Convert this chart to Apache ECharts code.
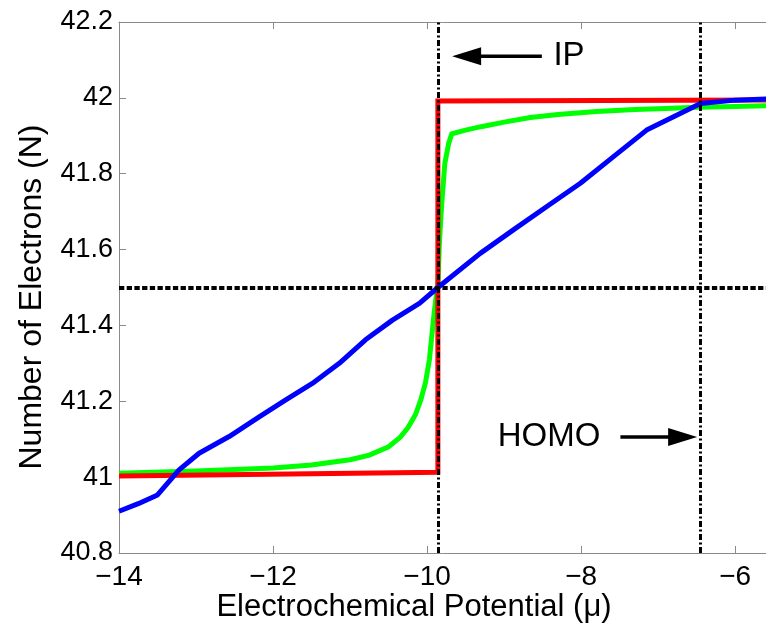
<!DOCTYPE html>
<html>
<head>
<meta charset="utf-8">
<script src="https://cdn.jsdelivr.net/npm/echarts@6/dist/echarts.min.js"></script>
<style>
  html, body { margin: 0; padding: 0; background: #fff; }
  #chart { width: 766px; height: 626px; }
</style>
</head>
<body>
<div id="chart"></div>
<script>
// Electron count N versus electrochemical potential mu
const xRange = [-14, -5.6];
const yRange = [40.8, 42.2];
const xTickStep = 2;
const yTickStep = 0.2;

// Step occupation (red)
const stepMu = [-14, -9.86, -9.86, -5];
const stepN  = [41.003, 41.013, 41.992, 41.995];

// Smoothed occupation (green)
const smoothMu = [-14, -13, -12, -11.5, -11, -10.75, -10.5, -10.35, -10.25, -10.15, -10.08, -10.02, -9.97, -9.94, -9.91, -9.88, -9.86,
                  -9.84, -9.81, -9.77, -9.72, -9.68, -9.5, -9.3, -9.0, -8.66, -8.3, -7.8, -7.3, -6.9, -6.5, -6.0, -5.0];
const smoothN  = [41.010, 41.016, 41.024, 41.032, 41.046, 41.058, 41.080, 41.105, 41.130, 41.165, 41.205, 41.250, 41.310, 41.370, 41.430, 41.480, 41.500,
                  41.620, 41.720, 41.827, 41.880, 41.905, 41.915, 41.924, 41.936, 41.948, 41.956, 41.964, 41.969, 41.972, 41.975, 41.977, 41.982];

// Broad occupation (blue)
const broadMu = [-14, -13.75, -13.5, -13.22, -12.96, -12.57, -12.18, -11.84, -11.49, -11.14, -10.80, -10.45, -10.10, -9.86,
                 -9.31, -8.88, -8.45, -8.01, -7.58, -7.15, -6.80, -6.45, -6.0, -5.0];
const broadN  = [40.910, 40.930, 40.953, 41.019, 41.063, 41.107, 41.159, 41.203, 41.247, 41.300, 41.362, 41.414, 41.458, 41.500,
                 41.590, 41.652, 41.713, 41.775, 41.845, 41.915, 41.950, 41.985, 41.994, 42.002];

// Reference levels
const ipMu = -9.86;
const homoMu = -6.45;
const halfN = 41.5;

// Annotation arrows: [tailMu, tailN, tipMu, tipN]
const arrowIP   = [-8.51, 42.110, -9.675, 42.110];
const arrowHOMO = [-7.49, 41.106, -6.494, 41.106];

// Annotation labels: [text, mu, N, align]
const labelIP   = ['IP', -8.36, 42.110, 'left'];
const labelHOMO = ['HOMO', -7.75, 41.106, 'right'];

const FONT = '"Liberation Sans", Arial, Helvetica, sans-serif';
const AXIS_GRAY = '#8a8a8a';

const zip = (a, b) => a.map((v, i) => [v, b[i]]);

function fmtX(v) {
  return (v < 0 ? '\u2212' : '') + Math.abs(v);
}
function fmtY(v) {
  return String(Number(v.toFixed(1)));
}

const chart = echarts.init(document.getElementById('chart'), null, { renderer: 'canvas' });

const lineBase = {
  type: 'line',
  showSymbol: false,
  symbol: 'none',
  silent: true,
  animation: false,
  clip: true
};

const dashDot = { color: '#000', width: 3, type: [6, 2.5, 2, 2.5], cap: 'butt' };

chart.setOption({
  animation: false,
  backgroundColor: '#ffffff',
  grid: { left: 119, top: 22, bottom: 73, right: 0, containLabel: false },
  xAxis: [
    {
      type: 'value', min: xRange[0], max: xRange[1], interval: xTickStep,
      position: 'bottom',
      axisLine: { show: true, onZero: false, lineStyle: { color: AXIS_GRAY, width: 1 } },
      axisTick: { show: true, inside: true, length: 7, lineStyle: { color: AXIS_GRAY } },
      axisLabel: { show: true, margin: 10, color: '#000', fontFamily: FONT, fontSize: 28, formatter: fmtX, showMaxLabel: false },
      splitLine: { show: false }
    },
    {
      type: 'value', min: xRange[0], max: xRange[1], interval: xTickStep,
      position: 'top',
      axisLine: { show: true, onZero: false, lineStyle: { color: AXIS_GRAY, width: 1 } },
      axisTick: { show: true, inside: true, length: 7, lineStyle: { color: AXIS_GRAY } },
      axisLabel: { show: false },
      splitLine: { show: false }
    }
  ],
  yAxis: [
    {
      type: 'value', min: yRange[0], max: yRange[1], interval: yTickStep,
      position: 'left',
      axisLine: { show: true, onZero: false, lineStyle: { color: AXIS_GRAY, width: 1 } },
      axisTick: { show: true, inside: true, length: 7, lineStyle: { color: AXIS_GRAY } },
      axisLabel: { show: true, margin: 6, color: '#000', fontFamily: FONT, fontSize: 27, formatter: fmtY },
      splitLine: { show: false }
    }
  ],
  graphic: [
    {
      type: 'text', x: 414, y: 607,
      style: {
        text: 'Electrochemical Potential (\u03bc)', fill: '#000',
        font: '31px ' + FONT, align: 'center', verticalAlign: 'middle'
      },
      silent: true
    },
    {
      type: 'text', x: 32, y: 297, rotation: Math.PI / 2,
      style: {
        text: 'Number of Electrons (N)', fill: '#000',
        font: '32px ' + FONT, align: 'center', verticalAlign: 'middle'
      },
      silent: true
    }
  ],
  series: [
    Object.assign({}, lineBase, {
      name: 'smooth', z: 2,
      data: zip(smoothMu, smoothN),
      lineStyle: { color: '#00ff00', width: 5, cap: 'butt', join: 'miter' }
    }),
    Object.assign({}, lineBase, {
      name: 'step', z: 3,
      data: zip(stepMu, stepN),
      lineStyle: { color: '#ff0000', width: 5, cap: 'butt', join: 'miter' }
    }),
    Object.assign({}, lineBase, {
      name: 'broad', z: 4,
      data: zip(broadMu, broadN),
      lineStyle: { color: '#0000ff', width: 5, cap: 'butt', join: 'round' },
      markLine: {
        silent: true,
        symbol: 'none',
        animation: false,
        label: { show: false },
        emphasis: { disabled: true },
        data: [
          { xAxis: ipMu, lineStyle: dashDot },
          { xAxis: homoMu, lineStyle: dashDot },
          { yAxis: halfN, lineStyle: { color: '#000', width: 4, type: [5.3, 2.4], cap: 'butt' } }
        ]
      }
    }),
    {
      type: 'custom', name: 'arrows', z: 6, silent: true, animation: false,
      data: [arrowIP, arrowHOMO],
      renderItem: function (params, api) {
        const p0 = api.coord([api.value(0), api.value(1)]);
        const p1 = api.coord([api.value(2), api.value(3)]);
        const dx = p1[0] - p0[0], dy = p1[1] - p0[1];
        const len = Math.sqrt(dx * dx + dy * dy);
        const ux = dx / len, uy = dy / len;
        const headLen = 29, headHalf = 9;
        const bx = p1[0] - ux * headLen, by = p1[1] - uy * headLen;
        return {
          type: 'group',
          children: [
            { type: 'line', shape: { x1: p0[0], y1: p0[1], x2: bx + ux * 2, y2: by + uy * 2 },
              style: { stroke: '#000', lineWidth: 3.5 } },
            { type: 'polygon', shape: { points: [p1, [bx - uy * headHalf, by + ux * headHalf], [bx + uy * headHalf, by - ux * headHalf]] },
              style: { fill: '#000' } }
          ]
        };
      }
    },
    {
      type: 'custom', name: 'labels', z: 6, silent: true, animation: false,
      data: [labelIP, labelHOMO].map(l => [l[1], l[2], l[0], l[3]]),
      encode: { x: 0, y: 1 },
      renderItem: function (params, api) {
        const item = [labelIP, labelHOMO][params.dataIndex];
        const p = api.coord([item[1], item[2]]);
        return {
          type: 'text', x: p[0], y: p[1],
          style: { text: item[0], fill: '#000', font: '33px ' + FONT, align: item[3], verticalAlign: 'middle' }
        };
      }
    }
  ]
});
</script>
</body>
</html>
